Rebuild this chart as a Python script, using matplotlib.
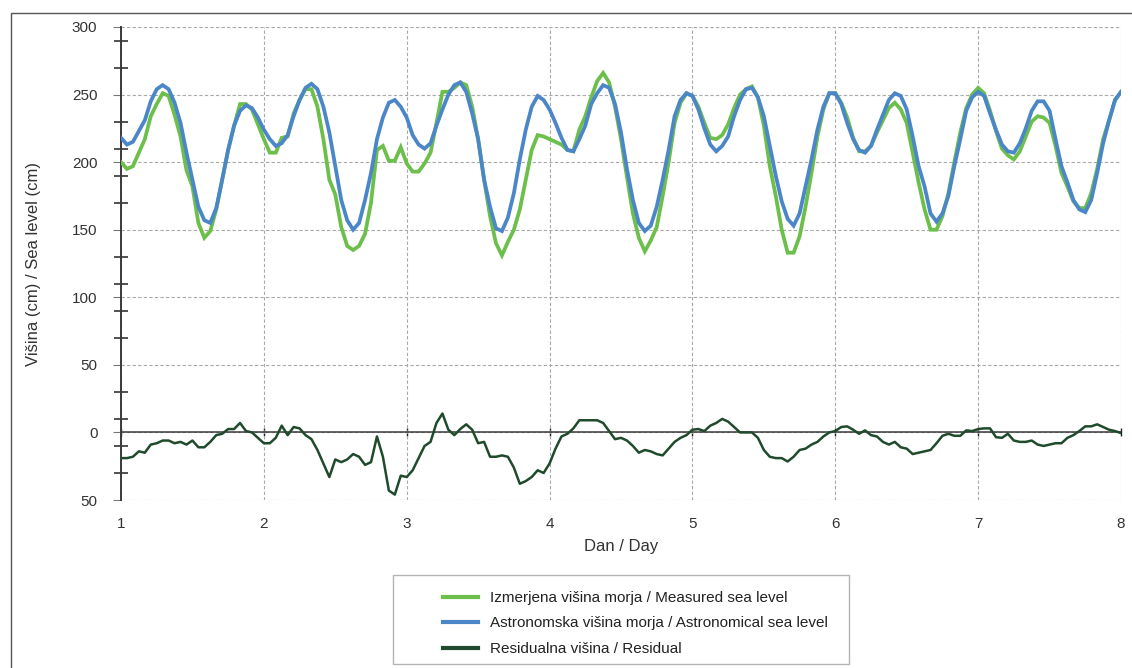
import numpy as np
import matplotlib
matplotlib.use("Agg")
import matplotlib.pyplot as plt
from matplotlib.patches import Rectangle
from matplotlib.ticker import FixedLocator, FixedFormatter

plt.rcParams['font.family'] = ['Liberation Sans', 'DejaVu Sans']

# ---- data (hourly, 7 days) ----
measured = [200, 195, 197, 207, 217, 234, 243, 251, 249, 235, 219, 194, 182, 155, 144, 149, 165, 187, 209, 227, 243, 243, 239, 228,
            217, 207, 207, 218, 219, 236, 246, 254, 254, 241, 217, 187, 176, 152, 138, 135, 138, 147, 170, 209, 212, 201, 201, 211,
            199, 193, 193, 199, 207, 229, 252, 252, 255, 259, 257, 241, 217, 187, 160, 140, 131, 141, 150, 165, 187, 209, 220, 219,
            217, 215, 213, 209, 208, 224, 234, 248, 260, 266, 259, 241, 217, 189, 162, 144, 134, 142, 152, 175, 200, 229, 244, 251,
            249, 241, 229, 218, 217, 220, 228, 240, 250, 254, 256, 248, 227, 197, 175, 150, 133, 133, 145, 167, 192, 219, 239, 251,
            251, 244, 233, 218, 208, 208, 212, 222, 231, 240, 244, 239, 229, 207, 185, 165, 150, 150, 160, 177, 200, 222, 240, 250,
            255, 251, 238, 223, 210, 205, 202, 208, 219, 230, 234, 233, 229, 212, 192, 182, 171, 166, 166, 177, 195, 217, 231, 246, 252]

astronomical = [218, 213, 215, 223, 231, 245, 254, 257, 254, 244, 229, 207, 187, 167, 157, 155, 166, 187, 209, 227, 238, 242, 240, 233,
                224, 217, 212, 214, 220, 234, 246, 255, 258, 254, 241, 222, 197, 172, 157, 150, 155, 172, 192, 217, 233, 244, 246, 241,
                233, 220, 213, 210, 214, 227, 239, 250, 257, 259, 252, 236, 217, 187, 167, 151, 149, 159, 177, 202, 224, 241, 249, 246,
                239, 229, 218, 209, 208, 217, 227, 243, 251, 257, 255, 243, 222, 195, 172, 155, 149, 153, 167, 187, 209, 234, 246, 251,
                249, 239, 225, 213, 208, 212, 219, 234, 246, 254, 255, 248, 234, 212, 190, 171, 158, 153, 162, 182, 202, 224, 241, 251,
                251, 243, 229, 217, 209, 207, 212, 224, 235, 246, 251, 249, 239, 219, 197, 182, 162, 156, 162, 175, 197, 217, 238, 248,
                252, 249, 236, 224, 213, 208, 207, 214, 225, 238, 245, 245, 238, 217, 197, 185, 172, 165, 163, 172, 192, 214, 231, 246, 252]

residual = [-19, -19, -18, -14, -15, -9, -8, -6, -6, -8, -7, -9, -6, -11, -11, -7, -2, -1, 2.5, 2.5, 7, 1, 0, -4,
            -8, -8, -4, 5, -2, 4, 3, -2, -5, -13, -23, -33, -20, -22, -20, -16, -18, -24, -22, -3, -18, -43, -46, -32,
            -33, -28, -19, -10, -7, 7, 14, 2, -2, 2.5, 6, 2, -8, -7, -18, -18, -17, -18, -26, -38, -36, -33, -28, -30,
            -23, -12, -3, -1, 3, 9, 9, 9, 9, 7, 1, -5, -4, -6, -10, -15, -13, -14, -16, -17, -12, -7, -4, -2,
            2, 2.5, 1, 5, 7, 10, 8, 4, 0, 0, 0, -4, -13, -18, -19, -19, -21.5, -18, -13, -12, -9, -7, -3, 0,
            1, 4, 4.5, 2, -1, 1.5, -2, -3, -7, -9, -7, -11, -12, -16, -15, -14, -13, -8, -2.5, -1, -2.5, -2.5, 1.5, 1,
            2.5, 3, 3, -3.5, -4, -1, -6, -7, -7, -6, -9, -10, -9, -8, -8, -4, -2, 1, 4.5, 4.5, 6, 4, 2, 1, -0.5]

days = 1 + np.arange(len(measured)) / 24.0

x_ticks = [1, 2, 3, 4, 5, 6, 7, 8]
y_ticks = [-50, 0, 50, 100, 150, 200, 250, 300]
y_tick_labels = ['50', '0', '50', '100', '150', '200', '250', '300']
y_minor_ticks = list(range(-30, 300, 20))

labels = ['Izmerjena višina morja / Measured sea level',
          'Astronomska višina morja / Astronomical sea level',
          'Residualna višina / Residual']
colors = ['#6cbf4b', '#4a86c8', '#1f4b2c']

# ---- figure ----
W, H = 1132, 668
fig = plt.figure(figsize=(W / 100, H / 100), dpi=100)
ax = fig.add_axes([121 / W, 1 - 500 / H, 1000 / W, 473 / H])

l1, = ax.plot(days, measured, color=colors[0], lw=2.7, solid_joinstyle='miter', zorder=3)
l2, = ax.plot(days, astronomical, color=colors[1], lw=2.7, solid_joinstyle='miter', zorder=4)
l3, = ax.plot(days, residual, color=colors[2], lw=1.8, zorder=5)

ax.set_xlim(1, 8)
ax.set_ylim(-50, 300)

for s in ['top', 'right', 'bottom']:
    ax.spines[s].set_visible(False)
ax.spines['left'].set_color('#3a3a3a')
ax.spines['left'].set_linewidth(1.4)

ax.set_xticks(x_ticks)
ax.set_xticklabels([str(v) for v in x_ticks])
ax.tick_params(axis='x', length=0, pad=12, labelsize=11, labelcolor='#333333')

ax.yaxis.set_major_locator(FixedLocator(y_ticks))
ax.yaxis.set_major_formatter(FixedFormatter(y_tick_labels))
ax.yaxis.set_minor_locator(FixedLocator(y_minor_ticks))
ax.tick_params(axis='y', which='major', direction='out', length=6, width=0.8,
               color='#777777', pad=11, labelsize=11, labelcolor='#333333')
ax.tick_params(axis='y', which='minor', direction='inout', length=10, width=1.2,
               color='#333333')

ax.grid(True, which='major', color='#a8a8a8', linestyle=(0, (3, 2)), linewidth=0.8, zorder=0)
ax.set_axisbelow(True)

# solid zero line with day ticks
ax.axhline(0, color='#3a3a3a', linewidth=1.1, zorder=2)
sec = ax.secondary_xaxis(0, transform=ax.transData)
sec.spines['bottom'].set_visible(False)
sec.set_xticks(x_ticks)
sec.set_xticklabels([])
sec.tick_params(direction='inout', length=6, width=1.0, color='#222222')

ax.set_xlabel('Dan / Day', fontsize=12, color='#333333', labelpad=6)
ax.set_ylabel('Višina (cm) / Sea level (cm)', fontsize=12, color='#333333', labelpad=22)

# legend
fig.legend([l1, l2, l3], labels, loc='upper left',
           bbox_to_anchor=(443 / W, 1 - 591 / H), frameon=False,
           borderpad=0, borderaxespad=0, handlelength=2.3, handletextpad=0.75,
           labelspacing=0.75, fontsize=11, labelcolor='#222222')
for h in fig.legends[0].legend_handles:
    h.set_linewidth(3.0)
fig.patches.append(Rectangle((393 / W, 1 - 664 / H), (849 - 393) / W, (664 - 575) / H,
                             transform=fig.transFigure, fill=False,
                             edgecolor='#b4b4b4', linewidth=1.0))
# outer frame
fig.patches.append(Rectangle((10.5 / W, -0.2), 1.5, 1.2 - 12.5 / H,
                             transform=fig.transFigure, fill=False,
                             edgecolor='#555555', linewidth=1.0))

fig.savefig('out.png', dpi=100)
